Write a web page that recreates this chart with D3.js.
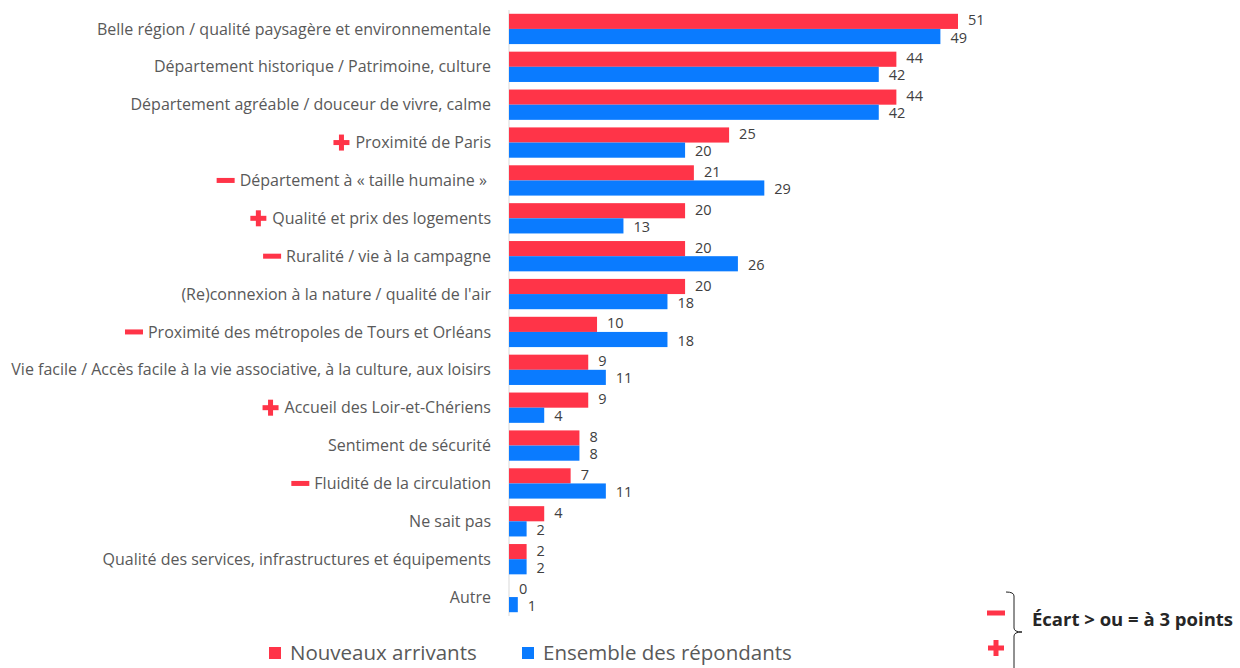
<!DOCTYPE html>
<html>
<head>
<meta charset="utf-8">
<script src="https://cdn.jsdelivr.net/npm/d3@7"></script>
<style>
	body { margin: 0; background: #fff; }
	svg { display: block; font-family: "Open Sans", sans-serif; }
</style>
</head>
<body>
<svg id="chart" width="1240" height="668"></svg>
<script>

const categories = [
	"Belle région / qualité paysagère et environnementale",
	"Département historique / Patrimoine, culture",
	"Département agréable / douceur de vivre, calme",
	"Proximité de Paris",
	"Département à « taille humaine » ",
	"Qualité et prix des logements",
	"Ruralité / vie à la campagne",
	"(Re)connexion à la nature / qualité de l'air",
	"Proximité des métropoles de Tours et Orléans",
	"Vie facile / Accès facile à la vie associative, à la culture, aux loisirs",
	"Accueil des Loir-et-Chériens",
	"Sentiment de sécurité",
	"Fluidité de la circulation",
	"Ne sait pas",
	"Qualité des services, infrastructures et équipements",
	"Autre"
];
const nouveaux = [51, 44, 44, 25, 21, 20, 20, 20, 10, 9, 9, 8, 7, 4, 2, 0];
const ensemble = [49, 42, 42, 20, 29, 13, 26, 18, 18, 11, 4, 8, 11, 2, 2, 1];
// + / - : écart de 3 points ou plus
const ecart = ["", "", "", "+", "-", "+", "-", "", "-", "", "+", "", "-", "", "", ""];
const series = ["Nouveaux arrivants", "Ensemble des répondants"];

const red = "#ff3448";
const blue = "#0a7bff";

const svg = d3.select("#chart");

const x = d3.scaleLinear()
	.domain([0, 51])
	.range([509, 958]);

const y = d3.scaleBand()
	.domain(categories)
	.range([10, 616])
	.paddingInner(0.2)
	.paddingOuter(0.1);

const ySub = d3.scaleBand()
	.domain(series)
	.range([0, y.bandwidth()]);

const rows = categories.map((c, i) => ({ cat: c, vals: [nouveaux[i], ensemble[i]], mark: ecart[i] }));

// axe vertical
svg.append("line")
	.attr("x1", x(0)).attr("x2", x(0))
	.attr("y1", 10).attr("y2", 616)
	.attr("stroke", "#d9d9d9")
	.attr("stroke-width", 1);

const row = svg.selectAll(".row")
	.data(rows)
	.enter()
	.append("g")
	.attr("class", "row")
	.attr("transform", d => `translate(0,${y(d.cat)})`);

row.selectAll("rect")
	.data(d => d.vals.map((v, j) => ({ v: v, s: series[j] })))
	.enter()
	.append("rect")
	.attr("x", x(0))
	.attr("y", d => ySub(d.s))
	.attr("width", d => x(d.v) - x(0))
	.attr("height", ySub.bandwidth())
	.attr("fill", d => d.s === series[0] ? red : blue);

// valeurs, légèrement écartées pour ne pas se toucher
row.selectAll(".val")
	.data(d => d.vals.map((v, j) => ({ v: v, s: series[j] })))
	.enter()
	.append("text")
	.attr("class", "val")
	.attr("x", d => x(d.v) + 10)
	.attr("y", d => ySub(d.s) + ySub.bandwidth() / 2 + (d.s === series[0] ? -1 : 1))
	.attr("dy", "0.35em")
	.attr("font-size", 14.5)
	.attr("fill", "#404040")
	.text(d => d.v);

// libellés des catégories
const lab = row.append("text")
	.attr("x", 491)
	.attr("y", y.bandwidth() / 2)
	.attr("dy", "0.35em")
	.attr("text-anchor", "end")
	.attr("font-size", 16)
	.attr("fill", "#595959")
	.style("white-space", "pre")
	.text(d => d.cat);

function drawMark(g, type, cx, cy) {
	if (type === "-") {
		g.append("rect").attr("x", cx - 9).attr("y", cy - 2.5).attr("width", 18).attr("height", 5).attr("fill", red);
	} else {
		g.append("rect").attr("x", cx - 8).attr("y", cy - 2.5).attr("width", 16).attr("height", 5).attr("fill", red);
		g.append("rect").attr("x", cx - 2.5).attr("y", cy - 8).attr("width", 5).attr("height", 16).attr("fill", red);
	}
}

lab.each(function (d) {
	if (!d.mark) return;
	const w = this.getComputedTextLength();
	const g = d3.select(this.parentNode);
	drawMark(g, d.mark, 491 - w - 14, y.bandwidth() / 2);
});

// légende
const legend = svg.append("g").attr("transform", "translate(269,647)");
const item = legend.selectAll("g")
	.data(series)
	.enter()
	.append("g")
	.attr("transform", (d, i) => `translate(${i * 253},0)`);
item.append("rect")
	.attr("width", 12).attr("height", 12)
	.attr("fill", (d, i) => i === 0 ? red : blue);
item.append("text")
	.attr("x", 21).attr("y", 6).attr("dy", "0.35em")
	.attr("font-size", 20.5)
	.attr("fill", "#595959")
	.text(d => d);

// accolade écart
const br = svg.append("g");
drawMark(br, "-", 996, 613);
drawMark(br, "+", 996, 648);
br.append("path")
	.attr("d", "M1006,592 Q1014,592 1014,596 L1014,628 Q1014,632 1022,632 Q1014,632 1014,636 L1014,668")
	.attr("fill", "none")
	.attr("stroke", "#222")
	.attr("stroke-width", 1);
br.append("text")
	.attr("x", 1032).attr("y", 620).attr("dy", "0.35em")
	.attr("font-size", 18.5)
	.attr("font-weight", "bold")
	.attr("fill", "#262626")
	.text("Écart > ou = à 3 points");
</script>
</body>
</html>
